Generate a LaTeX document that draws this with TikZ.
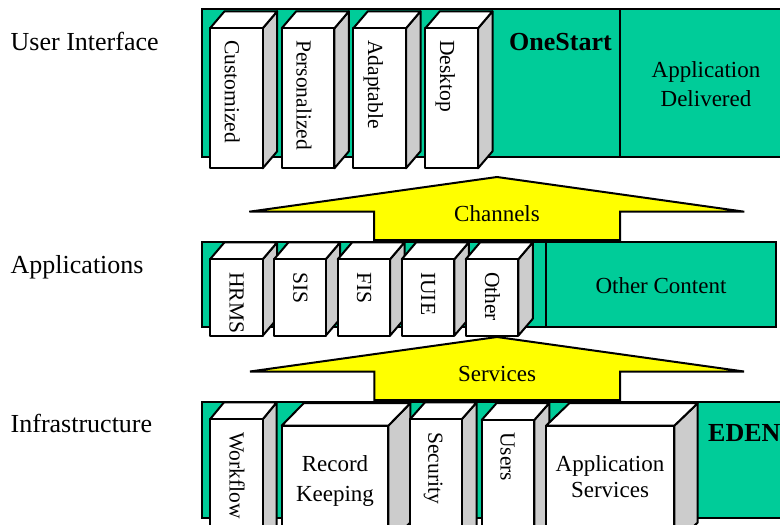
\documentclass[tikz,border=0pt]{standalone}
\usepackage{fontspec}
\setmainfont{Liberation Serif}
\definecolor{panelgreen}{RGB}{0,204,153}
\definecolor{sidegray}{RGB}{204,204,204}
\definecolor{arrowyellow}{RGB}{255,255,0}
\newcommand{\cubebox}[6]{%
  \filldraw[cubeside] (#2,#3) -- ({#2+#5},{#3-#6}) -- ({#2+#5},{#4-#6}) -- (#2,#4) -- cycle;
  \filldraw[cubeface] (#1,#3) -- ({#1+#5},{#3-#6}) -- ({#2+#5},{#3-#6}) -- (#2,#3) -- cycle;
  \filldraw[cubeface] (#1,#3) rectangle (#2,#4);
}
\tikzset{
  panel/.style={fill=panelgreen, draw=black, line width=2pt},
  cubeside/.style={fill=sidegray, draw=black, line width=2pt, line join=round},
  cubeface/.style={fill=white, draw=black, line width=2pt, line join=round},
  bigarrow/.style={fill=arrowyellow, draw=black, line width=2pt, line join=miter},
  lbl/.style={font=\fontsize{26}{30}\selectfont, anchor=base west, inner sep=0pt},
  spine/.style={font=\fontsize{21.5}{25}\selectfont, rotate=-90, anchor=base west, inner sep=0pt},
  txt/.style={font=\fontsize{23}{27}\selectfont, anchor=base, inner sep=0pt},
  boldtxt/.style={font=\fontsize{26}{30}\selectfont\bfseries, anchor=base, inner sep=0pt},
}
\begin{document}
\begin{tikzpicture}[x=1pt,y=-1pt]
\useasboundingbox (0,0) rectangle (780,525);
\clip (0,0) rectangle (780,525);

% left labels
\node[lbl] (lui) at (10.5,50) {User Interface};
\node[lbl] (lapp) at (10.5,273.5) {Applications};
\node[lbl] (linf) at (10.5,432) {Infrastructure};

% ---------- User interface layer ----------
\filldraw[panel] (202,9.3) rectangle (800,156.7);
\draw[line width=2pt] (620,9.3) -- (620,156.7);
\cubebox{210}{262.7}{28.3}{168.3}{14.5}{17}
\cubebox{281.7}{334.4}{28.3}{168.3}{14.5}{17}
\cubebox{353.3}{406}{28.3}{168.3}{14.5}{17}
\cubebox{425.3}{478}{28.3}{168.3}{14.5}{17}
\node[spine] (cust) at (224.9,40) {Customized};
\node[spine] (pers) at (296.5,40) {Personalized};
\node[spine] (adap) at (368.2,40) {Adaptable};
\node[spine] (desk) at (440.2,40) {Desktop};
\node[boldtxt] (onestart) at (560.5,50) {OneStart};
\node[txt] (appdel1) at (706,77.3) {Application};
\node[txt] (appdel2) at (706,106.7) {Delivered};

% ---------- Applications layer ----------
\filldraw[panel] (201.7,241.7) rectangle (546,327);
\filldraw[panel] (546,241.7) rectangle (776,327);
\cubebox{210}{262.7}{259.3}{335.7}{14.5}{17}
\cubebox{274}{325.7}{259.3}{335.7}{14.5}{17}
\cubebox{337.7}{390}{259.3}{335.7}{14.5}{17}
\cubebox{401.7}{454.3}{259.3}{335.7}{14.5}{17}
\cubebox{465.7}{518.3}{259.3}{335.7}{14.5}{17}
\node[spine] (hrms) at (229.5,272) {HRMS};
\node[spine] (sis) at (293.3,272) {SIS};
\node[spine] (fis) at (357,272) {FIS};
\node[spine] (iuie) at (421,272) {IUIE};
\node[spine] (other) at (485,272) {Other};
\node[txt] (othercontent) at (661,293.3) {Other Content};

% ---------- Infrastructure layer ----------
\filldraw[panel] (201.7,401.7) rectangle (800,517.7);
\cubebox{210}{262.7}{419.3}{545}{14}{17}
\cubebox{281.7}{388.3}{425.7}{545}{22}{22.5}
\cubebox{410}{461.7}{419.3}{545}{15}{17}
\cubebox{481.7}{534.3}{420}{545}{15}{17}
\cubebox{546}{674.3}{425.7}{545}{23.4}{22.5}
\node[spine] (workflow) at (229.5,432) {Workflow};
\node[txt] (rk1) at (335,471.7) {Record};
\node[txt] (rk2) at (335,501.7) {Keeping};
\node[spine] (security) at (428.3,432) {Security};
\node[spine] (users) at (500.5,432) {Users};
\node[txt] (as1) at (610,471.7) {Application};
\node[txt] (as2) at (610,497.3) {Services};
\node[boldtxt, anchor=base west] (eden) at (708,441.7) {EDEN};

% ---------- block arrows ----------
\filldraw[bigarrow] (497,177) -- (249.3,211.7) -- (374,211.7) -- (374,240)
  -- (620,240) -- (620,211.7) -- (744.3,211.7) -- cycle;
\node[txt] (channels) at (497,221.7) {Channels};
\filldraw[bigarrow] (497,337) -- (250,371.5) -- (374.3,371.5) -- (374.3,400)
  -- (620,400) -- (620,371.5) -- (744,371.5) -- cycle;
\node[txt] (services) at (497,381.7) {Services};
\end{tikzpicture}
\end{document}
